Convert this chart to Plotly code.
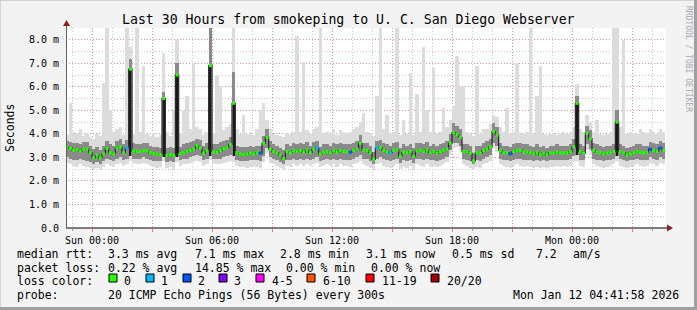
import plotly.graph_objects as go
import pandas as pd

# ---------------- data (10-minute steps, values in ms) ----------------
med = [
    3.45, 3.38, 3.30, 3.33, 3.27, 3.35, 3.36, 3.20, 2.98, 3.10, 2.97, 3.15, 3.38, 3.20, 3.15, 3.40, 3.45, 3.20,
    3.40, 6.75, 3.28, 3.25, 3.25, 3.28, 3.28, 3.20, 3.16, 3.14, 3.12, 5.50, 3.09, 3.12, 3.08, 6.50, 3.16, 3.20,
    3.25, 3.30, 3.35, 3.50, 3.40, 3.18, 3.28, 6.90, 3.24, 3.22, 3.30, 3.38, 3.40, 3.55, 5.30, 3.20, 3.15, 3.12,
    3.14, 3.18, 3.15, 3.20, 3.18, 3.60, 3.85, 3.35, 3.25, 3.20, 3.10, 2.95, 3.25, 3.20, 3.28, 3.25, 3.30, 3.22,
    3.32, 3.20, 3.35, 3.40, 3.15, 3.22, 3.25, 3.20, 3.28, 3.22, 3.30, 3.25, 3.24, 3.22, 3.30, 3.35, 3.60, 3.30,
    3.30, 3.20, 2.92, 3.40, 3.42, 3.30, 3.25, 3.20, 3.30, 3.32, 3.05, 3.22, 3.20, 3.25, 3.05, 3.28, 3.30, 3.25,
    3.32, 3.20, 3.25, 3.18, 3.25, 3.30, 3.35, 3.60, 4.05, 3.97, 3.85, 3.25, 3.25, 3.18, 2.85, 3.20, 3.18, 3.30,
    3.35, 3.45, 4.10, 3.95, 3.30, 3.20, 3.20, 3.15, 3.25, 3.30, 3.30, 3.22, 3.25, 3.20, 3.15, 3.22, 3.12, 3.18,
    3.10, 3.20, 3.18, 3.22, 3.18, 3.20, 3.18, 3.25, 3.45, 5.30, 3.25, 3.18, 4.02, 3.80, 3.30, 3.22, 3.20, 3.15,
    3.18, 3.20, 3.25, 4.50, 3.25, 3.20, 3.10, 3.15, 3.20, 3.25, 3.22, 3.20, 3.20, 3.35, 3.30, 3.25, 3.40, 3.30,
]
smoke_lo = [
    2.75, 2.70, 2.65, 2.60, 2.70, 2.65, 2.60, 2.55, 2.50, 2.55, 2.45, 2.60, 2.70, 2.65, 2.60, 2.70, 2.75, 2.65,
    2.70, 2.85, 2.75, 2.70, 2.70, 2.75, 2.70, 2.65, 2.60, 2.55, 2.60, 2.85, 2.55, 2.60, 2.50, 2.80, 2.65, 2.70,
    2.70, 2.75, 2.80, 2.85, 2.80, 2.65, 2.70, 2.90, 2.75, 2.70, 2.70, 2.75, 2.80, 2.85, 2.80, 2.65, 2.60, 2.60,
    2.55, 2.60, 2.65, 2.60, 2.55, 2.80, 3.20, 2.75, 2.70, 2.65, 2.55, 2.45, 2.65, 2.60, 2.70, 2.65, 2.70, 2.65,
    2.70, 2.65, 2.70, 2.75, 2.60, 2.65, 2.70, 2.65, 2.70, 2.60, 2.70, 2.65, 2.65, 2.60, 2.70, 2.75, 2.85, 2.70,
    2.65, 2.55, 2.45, 2.70, 2.75, 2.65, 2.60, 2.55, 2.65, 2.70, 2.50, 2.60, 2.55, 2.65, 2.50, 2.70, 2.65, 2.60,
    2.70, 2.60, 2.65, 2.60, 2.65, 2.70, 2.80, 3.10, 3.40, 3.45, 3.30, 2.70, 2.65, 2.55, 2.45, 2.60, 2.55, 2.70,
    2.75, 2.85, 3.40, 3.25, 2.70, 2.65, 2.60, 2.55, 2.65, 2.70, 2.65, 2.60, 2.65, 2.60, 2.55, 2.60, 2.55, 2.60,
    2.55, 2.60, 2.60, 2.65, 2.60, 2.65, 2.60, 2.65, 2.80, 2.85, 2.65, 2.60, 3.30, 3.10, 2.70, 2.65, 2.60, 2.55,
    2.60, 2.65, 2.70, 2.85, 2.65, 2.60, 2.55, 2.60, 2.65, 2.70, 2.65, 2.60, 2.65, 2.75, 2.70, 2.65, 2.75, 2.70,
]
smoke_hi = [
    3.95, 5.30, 4.10, 4.00, 4.20, 3.90, 4.05, 3.85, 3.80, 4.00, 3.90, 6.15, 8.50, 5.00, 4.10, 4.20, 4.30, 3.95,
    8.50, 7.70, 4.00, 8.50, 4.10, 6.90, 4.00, 3.90, 4.05, 3.85, 3.95, 7.45, 4.10, 3.90, 5.00, 7.97, 4.00, 5.00,
    5.60, 4.20, 7.03, 4.30, 4.20, 3.95, 4.10, 8.50, 4.05, 6.44, 6.00, 4.15, 4.30, 4.40, 8.50, 4.20, 4.00, 4.80,
    4.00, 4.10, 3.95, 4.20, 5.00, 5.30, 4.60, 4.20, 4.00, 3.95, 3.90, 3.85, 4.05, 4.00, 4.10, 8.17, 4.10, 7.05,
    4.15, 4.00, 4.20, 4.30, 8.50, 4.05, 4.10, 4.00, 4.20, 3.95, 4.15, 4.10, 4.05, 4.10, 4.20, 4.30, 4.50, 4.90,
    4.10, 4.00, 3.90, 5.60, 8.50, 4.20, 4.80, 4.00, 4.10, 8.50, 3.95, 4.60, 4.00, 6.60, 3.95, 5.70, 4.10, 7.70,
    5.00, 4.10, 6.80, 4.00, 4.10, 5.10, 4.30, 4.60, 5.20, 7.30, 6.00, 6.00, 4.10, 4.00, 3.90, 6.90, 4.00, 4.20,
    4.20, 4.40, 4.80, 4.70, 4.30, 4.10, 5.10, 4.00, 4.10, 7.00, 4.05, 4.00, 4.10, 8.50, 4.00, 5.60, 6.90, 4.00,
    3.95, 4.00, 4.05, 3.95, 4.00, 4.10, 4.00, 4.10, 4.30, 6.10, 4.20, 4.10, 4.80, 4.50, 4.10, 4.60, 4.00, 3.95,
    4.00, 4.10, 8.50, 8.50, 4.30, 7.97, 4.00, 4.10, 4.05, 4.00, 4.20, 4.10, 4.05, 4.20, 4.10, 4.00, 4.20, 4.10,
]
core_lo = [
    3.00, 2.95, 2.90, 2.90, 2.95, 2.90, 2.85, 2.80, 2.70, 2.80, 2.70, 2.85, 2.95, 2.90, 2.85, 2.95, 3.00, 2.90,
    2.95, 3.05, 2.95, 2.95, 2.95, 3.00, 2.95, 2.90, 2.85, 2.85, 2.85, 3.00, 2.80, 2.85, 2.80, 3.00, 2.90, 2.95,
    2.95, 3.00, 3.05, 3.10, 3.05, 2.90, 2.95, 3.05, 2.95, 2.95, 2.95, 3.00, 3.05, 3.10, 3.05, 2.90, 2.85, 2.85,
    2.85, 2.90, 2.90, 2.90, 2.85, 3.05, 3.40, 3.00, 2.95, 2.90, 2.80, 2.70, 2.90, 2.90, 2.95, 2.90, 2.95, 2.90,
    2.95, 2.90, 2.95, 3.00, 2.85, 2.90, 2.95, 2.90, 2.95, 2.90, 2.95, 2.90, 2.90, 2.90, 2.95, 3.00, 3.10, 2.95,
    2.95, 2.85, 2.70, 2.95, 3.00, 2.95, 2.90, 2.85, 2.90, 2.95, 2.75, 2.90, 2.85, 2.90, 2.75, 2.95, 2.95, 2.90,
    2.95, 2.90, 2.90, 2.85, 2.90, 2.95, 3.00, 3.30, 3.60, 3.60, 3.50, 2.95, 2.90, 2.85, 2.70, 2.90, 2.85, 2.95,
    3.00, 3.10, 3.60, 3.50, 2.95, 2.90, 2.90, 2.85, 2.90, 2.95, 2.95, 2.90, 2.90, 2.90, 2.85, 2.90, 2.85, 2.90,
    2.85, 2.90, 2.90, 2.90, 2.90, 2.90, 2.90, 2.95, 3.05, 3.10, 2.90, 2.90, 3.55, 3.35, 2.95, 2.90, 2.90, 2.85,
    2.90, 2.90, 2.95, 3.05, 2.95, 2.90, 2.85, 2.90, 2.90, 2.95, 2.90, 2.90, 2.90, 3.00, 2.95, 2.90, 3.00, 2.95,
]
core_hi = [
    3.70, 3.65, 3.60, 3.60, 3.55, 3.65, 3.65, 3.50, 3.35, 3.45, 3.30, 3.50, 3.70, 3.55, 3.50, 3.70, 3.80, 3.55,
    3.75, 7.20, 3.60, 3.55, 3.55, 3.60, 3.60, 3.50, 3.45, 3.45, 3.40, 5.80, 3.40, 3.45, 3.40, 7.00, 3.45, 3.55,
    3.60, 3.65, 3.70, 3.80, 3.75, 3.50, 3.60, 8.50, 3.55, 3.55, 3.65, 3.70, 3.75, 3.85, 6.65, 3.50, 3.45, 3.45,
    3.45, 3.50, 3.45, 3.50, 3.50, 3.90, 4.20, 3.70, 3.55, 3.50, 3.40, 3.30, 3.55, 3.50, 3.60, 3.55, 3.60, 3.55,
    3.65, 3.50, 3.65, 3.70, 3.45, 3.55, 3.55, 3.50, 3.60, 3.55, 3.60, 3.55, 3.55, 3.55, 3.60, 3.70, 3.95, 3.60,
    3.60, 3.50, 3.25, 3.70, 3.75, 3.60, 3.55, 3.50, 3.60, 3.65, 3.40, 3.55, 3.50, 3.55, 3.40, 3.60, 3.60, 3.55,
    3.65, 3.50, 3.55, 3.50, 3.55, 3.60, 3.70, 4.00, 4.45, 4.35, 4.20, 3.55, 3.55, 3.50, 3.20, 3.50, 3.50, 3.60,
    3.70, 3.80, 4.45, 4.30, 3.60, 3.50, 3.50, 3.45, 3.55, 3.60, 3.60, 3.55, 3.55, 3.50, 3.45, 3.55, 3.45, 3.50,
    3.40, 3.50, 3.50, 3.55, 3.50, 3.50, 3.50, 3.55, 3.80, 5.60, 3.55, 3.50, 4.35, 4.15, 3.60, 3.55, 3.50, 3.45,
    3.50, 3.50, 3.55, 5.00, 3.55, 3.50, 3.40, 3.45, 3.50, 3.55, 3.55, 3.50, 3.50, 3.65, 3.60, 3.55, 3.70, 3.60,
]
# (step index, lost pings) for the steps that had loss
loss_events = [(18, 1), (58, 2), (75, 1), (85, 2), (93, 1), (97, 1), (133, 2), (175, 2), (178, 2)]
# steps where (nearly) all pings were slow -> dark smoke column
dark_steps = [19, 29, 33, 43, 50, 153, 165]

y_tick_vals = [0, 1, 2, 3, 4, 5, 6, 7, 8]
y_tick_text = ["0.0", "1.0 m", "2.0 m", "3.0 m", "4.0 m", "5.0 m", "6.0 m", "7.0 m", "8.0 m"]
x_tick_vals = ["2026-01-11 00:00", "2026-01-11 03:00", "2026-01-11 06:00", "2026-01-11 09:00",
               "2026-01-11 12:00", "2026-01-11 15:00", "2026-01-11 18:00", "2026-01-11 21:00",
               "2026-01-12 00:00", "2026-01-12 03:00"]
x_tick_text = ["Sun 00:00", "", "Sun 06:00", "", "Sun 12:00", "", "Sun 18:00", "", "Mon 00:00", ""]

loss_labels = ["0", "1", "2", "3", "4-5", "6-10", "11-19", "20/20"]
loss_colors = ["#26ff00", "#00b8ff", "#0059ff", "#7e00ff", "#ff00ff", "#ff5500", "#ff0000", "#a00000"]

title = "Last 30 Hours from smokeping to U. C. San Diego Webserver"
stats_rtt = [("median rtt:", 16), ("3.3 ms avg", 107), ("7.1 ms max", 194), ("2.8 ms min", 279),
             ("3.1 ms now", 365), ("0.5 ms sd", 451), ("7.2", 535), ("am/s", 572)]
stats_loss = [("packet loss:", 16), ("0.22 % avg", 107), ("14.85 % max", 194),
              ("0.00 % min", 285), ("0.00 % now", 370)]
probe_text = "20 ICMP Echo Pings (56 Bytes) every 300s"
stamp_text = "Mon Jan 12 04:41:58 2026"

# ---------------- figure ----------------
MONO = "DejaVu Sans Mono"
start = pd.Timestamp("2026-01-10 22:40")
step = pd.Timedelta(minutes=10)
times = [start + step * i + step / 2 for i in range(len(med))]
W = step.total_seconds() * 1000

L, R, T, B = 66, 666, 28, 228          # plot-area pixel box
def px(x): return (x - L) / (R - L)
def py(y): return (B - y) / (B - T)

def bucket(n):
    if n == 0: return 0
    if n <= 3: return n
    if n <= 5: return 4
    if n <= 10: return 5
    if n <= 19: return 6
    return 7

loss = [0] * len(med)
for i, n in loss_events:
    loss[i] = n
pt_colors = [loss_colors[bucket(n)] for n in loss]

fig = go.Figure()
fig.add_bar(x=times, y=[h - l for h, l in zip(smoke_hi, smoke_lo)], base=smoke_lo, width=W,
            marker=dict(color="#dcdcdc", line_width=0), hoverinfo="skip")
fig.add_bar(x=times, y=[h - l for h, l in zip(core_hi, core_lo)], base=core_lo, width=W,
            marker=dict(color="#8a8a8a", line_width=0), hoverinfo="skip")
fig.add_bar(x=[times[i] for i in dark_steps], y=[med[i] - core_lo[i] for i in dark_steps],
            base=[core_lo[i] for i in dark_steps], width=W * 0.6,
            marker=dict(color="#1a1a1a", line_width=0), hoverinfo="skip")
fig.add_scatter(x=times, y=med, mode="lines", line=dict(shape="hvh", color="#262626", width=1.2),
                hoverinfo="skip")
fig.add_scatter(x=times, y=med, mode="markers",
                marker=dict(symbol="square", size=3, color=pt_colors, line=dict(width=0)),
                hoverinfo="skip")

grid_red = "rgba(240,120,120,0.7)"
grid_gray = "#c8c8c8"
fig.update_layout(
    width=697, height=310, margin=dict(l=L, r=697 - R, t=T, b=310 - B, pad=0),
    paper_bgcolor="#f3f3f3", plot_bgcolor="#ffffff",
    barmode="overlay", bargap=0, showlegend=False,
    font=dict(family=MONO, size=10, color="#000000"),
    xaxis=dict(type="date", range=["2026-01-10 22:42", "2026-01-12 04:42"],
               tickmode="array", tickvals=x_tick_vals, ticktext=x_tick_text,
               tickfont=dict(family=MONO, size=10), ticks="outside", ticklen=3, tickcolor="#e08080",
               showgrid=True, gridcolor=grid_red, griddash="1px,2px", gridwidth=1,
               minor=dict(tickmode="linear", tick0="2026-01-11 00:00", dtick=3600000,
                          showgrid=True, gridcolor=grid_gray, griddash="1px,2px",
                          ticks="outside", ticklen=2, tickcolor="#999999"),
               zeroline=False, showline=False, fixedrange=True),
    yaxis=dict(range=[0, 8.5], tickmode="array", tickvals=y_tick_vals, ticktext=y_tick_text,
               tickfont=dict(family=MONO, size=10), ticks="outside", ticklen=4,
               tickcolor="rgba(0,0,0,0)",
               showgrid=True, gridcolor=grid_red, griddash="1px,2px", gridwidth=1,
               minor=dict(dtick=0.5, showgrid=True, gridcolor=grid_gray, griddash="1px,2px"),
               zeroline=False, showline=False, fixedrange=True),
)

shapes = []
# axes with arrows
shapes.append(dict(type="line", xref="paper", yref="paper", x0=px(66), x1=px(668), y0=py(228), y1=py(228),
                   line=dict(color="#000000", width=1)))
shapes.append(dict(type="path", xref="paper", yref="paper",
                   path=f"M {px(667)},{py(224.5)} L {px(673)},{py(228)} L {px(667)},{py(231.5)} Z",
                   fillcolor="#8f2020", line=dict(width=0)))
shapes.append(dict(type="line", xref="paper", yref="paper", x0=px(66.5), x1=px(66.5), y0=py(228), y1=py(25),
                   line=dict(color="#606060", width=1)))
shapes.append(dict(type="path", xref="paper", yref="paper",
                   path=f"M {px(63)},{py(26)} L {px(66.5)},{py(20)} L {px(70)},{py(26)} Z",
                   fillcolor="#8f2020", line=dict(width=0)))
# loss colour swatches
box_x = [109, 146, 183, 219, 256, 307, 366, 431]
lab_x = [123, 160, 197, 233, 271, 322, 381, 446]
for bx, col in zip(box_x, loss_colors):
    shapes.append(dict(type="rect", xref="paper", yref="paper", x0=px(bx), x1=px(bx + 8),
                       y0=py(282), y1=py(274), fillcolor=col, line=dict(color="#000000", width=1)))
# image frame
shapes.append(dict(type="line", xref="paper", yref="paper", x0=px(0), x1=px(697), y0=py(0.5), y1=py(0.5),
                   line=dict(color="#d4d4d4", width=1)))
shapes.append(dict(type="line", xref="paper", yref="paper", x0=px(0.5), x1=px(0.5), y0=py(0), y1=py(310),
                   line=dict(color="#d4d4d4", width=1)))
shapes.append(dict(type="line", xref="paper", yref="paper", x0=px(695.5), x1=px(695.5), y0=py(0), y1=py(310),
                   line=dict(color="#a0a0a0", width=3)))
shapes.append(dict(type="line", xref="paper", yref="paper", x0=px(0), x1=px(697), y0=py(308.5), y1=py(308.5),
                   line=dict(color="#a0a0a0", width=3)))
fig.update_layout(shapes=shapes)

ann = []
def text(t, x, y, size=11.5, anchor="left", color="#000000", angle=0):
    ann.append(dict(text=t, x=px(x), y=py(y), xref="paper", yref="paper", showarrow=False,
                    xanchor=anchor, yanchor="middle", borderpad=0, textangle=angle,
                    font=dict(family=MONO, size=size, color=color)))

text(title, 348, 19, size=13.2, anchor="center")
text("Seconds", 10, 128, size=11.5, anchor="center", angle=-90)
text("RRDTOOL / TOBI OETIKER", 689, 59, size=8, anchor="center", color="#a8a8a8", angle=90)
for t, x in stats_rtt:
    text(t, x, 254)
for t, x in stats_loss:
    text(t, x, 268)
text("loss color:", 16, 281)
for lbl, x in zip(loss_labels, lab_x):
    text(lbl, x, 281)
text("probe:", 16, 295)
text(probe_text, 107, 295)
text(stamp_text, 680, 295, anchor="right")
fig.update_layout(annotations=ann)

fig.write_html("out.html")
